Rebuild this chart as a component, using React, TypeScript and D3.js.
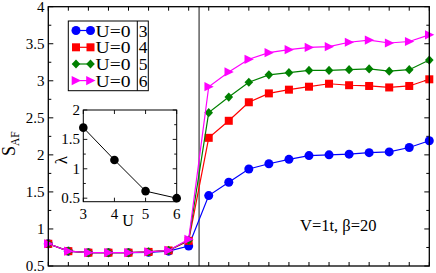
import React from "react";
import * as d3 from "d3";

const W = 436;
const H = 273;

const xIndex = d3.range(20);
const blueU3 = [0.80, 0.70, 0.68, 0.68, 0.68, 0.685, 0.70, 0.77, 1.45, 1.63, 1.81, 1.88, 1.94, 1.99, 2.00, 2.01, 2.03, 2.04, 2.10, 2.19];
const redU4 = [0.80, 0.70, 0.68, 0.68, 0.68, 0.69, 0.71, 0.84, 2.23, 2.46, 2.71, 2.83, 2.88, 2.92, 2.96, 2.94, 2.93, 2.91, 2.93, 3.02];
const greenU5 = [0.80, 0.70, 0.68, 0.68, 0.68, 0.69, 0.71, 0.85, 2.57, 2.78, 2.98, 3.08, 3.11, 3.14, 3.14, 3.15, 3.16, 3.13, 3.15, 3.28];
const magentaU6 = [0.80, 0.70, 0.68, 0.68, 0.68, 0.69, 0.71, 0.86, 2.92, 3.12, 3.29, 3.38, 3.42, 3.45, 3.46, 3.52, 3.55, 3.51, 3.53, 3.62];

const legendLeft = ["U=0", "U=0", "U=0", "U=0"];
const legendRight = ["3", "4", "5", "6"];

const yTickValues = [0.5, 1, 1.5, 2, 2.5, 3, 3.5, 4];
const yTickLabels = ["0.5", "1", "1.5", "2", "2.5", "3", "3.5", "4"];

const insetU = [3, 4, 5, 6];
const insetLambda = [1.70, 1.15, 0.62, 0.50];
const insetYTicks = [0.5, 1, 1.5, 2];
const insetYLabels = ["0.5", "1", "1.5", "2"];
const insetXLabels = ["3", "4", "5", "6"];

const FONT = "Liberation Serif";

type Shape = "circle" | "square" | "diamond" | "tri";

const series: { data: number[]; color: string; shape: Shape }[] = [
  { data: blueU3, color: "#0000ff", shape: "circle" },
  { data: redU4, color: "#ff0000", shape: "square" },
  { data: greenU5, color: "#008000", shape: "diamond" },
  { data: magentaU6, color: "#ff00ff", shape: "tri" },
];

function Marker({ shape, x, y, color }: { shape: Shape; x: number; y: number; color: string }) {
  if (shape === "circle") return <circle cx={x} cy={y} r={4.5} fill={color} />;
  if (shape === "square") return <rect x={x - 4} y={y - 4} width={8} height={8} fill={color} />;
  if (shape === "diamond")
    return <path d={`M${x},${y - 4.6}L${x + 4.3},${y}L${x},${y + 4.6}L${x - 4.3},${y}Z`} fill={color} />;
  return <path d={`M${x - 4.3},${y - 4.6}L${x + 5},${y}L${x - 4.3},${y + 4.6}Z`} fill={color} />;
}

export default function App() {
  const x = d3.scaleLinear().domain([0, 19]).range([48.3, 429.3]);
  const y = d3.scaleLinear().domain([0.5, 4]).range([266, 6.7]);
  const line = d3
    .line<number>()
    .x((_, i) => x(i))
    .y((d) => y(d));

  const minorY = d3.range(0.5, 4.001, 0.25);

  const ix = d3.scaleLinear().domain([3, 6]).range([83.3, 176.7]);
  const iy = d3.scaleLinear().domain([0.44, 2]).range([201.7, 110]);
  const iline = d3
    .line<number>()
    .x((_, i) => ix(insetU[i]))
    .y((d) => iy(d));
  const iMinorY = d3.range(0.5, 2.001, 0.25);

  const legendRows = [30.5, 47.3, 64, 80.6];

  return (
    <svg
      width={W}
      height={H}
      style={{ position: "absolute", left: 0, top: 0, background: "#fff" }}
    >
      <style>{`text, tspan { font-family: "Liberation Serif", serif; }`}</style>
      <rect x={0} y={0} width={W} height={H} fill="#fff" />
      <line x1={x(7.52)} x2={x(7.52)} y1={y(4)} y2={y(0.5)} stroke="#555" strokeWidth={1.4} />

      {minorY.map((v, i) => {
        const major = Math.abs(v * 2 - Math.round(v * 2)) < 1e-6;
        const len = major ? 5 : 3;
        return (
          <g key={"yt" + i}>
            <line x1={x(0)} x2={x(0) + len} y1={y(v)} y2={y(v)} stroke="#000" strokeWidth={1} />
            <line x1={x(19) - len} x2={x(19)} y1={y(v)} y2={y(v)} stroke="#000" strokeWidth={1} />
          </g>
        );
      })}
      {xIndex.map((i) => (
        <g key={"xt" + i}>
          <line x1={x(i)} x2={x(i)} y1={y(0.5)} y2={y(0.5) - 4} stroke="#000" strokeWidth={1} />
          <line x1={x(i)} x2={x(i)} y1={y(4)} y2={y(4) + 4} stroke="#000" strokeWidth={1} />
        </g>
      ))}
      {yTickValues.map((v, i) => (
        <text key={"yl" + i} x={44.5} y={y(v)} dy="0.34em" textAnchor="end" fontSize={15} fill="#000" fontFamily={FONT}>
          {yTickLabels[i]}
        </text>
      ))}

      <text transform={`translate(15,${156}) rotate(-90)`} fontSize={18} fill="#000" fontFamily={FONT}>
        S
        <tspan fontSize={11.5} dy={4}>
          AF
        </tspan>
      </text>

      {series.map((s, si) => (
        <g key={"s" + si}>
          <path d={line(s.data) || ""} fill="none" stroke={s.color} strokeWidth={1.2} />
          {s.data.map((v, i) => (
            <Marker key={i} shape={s.shape} x={x(i)} y={y(v)} color={s.color} />
          ))}
        </g>
      ))}

      <rect
        x={x(0)}
        y={y(4)}
        width={x(19) - x(0)}
        height={y(0.5) - y(4)}
        fill="none"
        stroke="#000"
        strokeWidth={1.3}
      />

      <text x={300} y={230.5} fontSize={16.5} fill="#000" fontFamily={FONT}>
        V=1t, β=20
      </text>

      <rect x={68.3} y={21} width={80} height={69.7} fill="#fff" stroke="#000" strokeWidth={1} />
      <line x1={137.3} x2={137.3} y1={21} y2={90.7} stroke="#000" strokeWidth={1} />
      {series.map((s, i) => (
        <g key={"lg" + i}>
          <line x1={73} x2={93} y1={legendRows[i]} y2={legendRows[i]} stroke={s.color} strokeWidth={1.2} />
          <Marker shape={s.shape} x={76} y={legendRows[i]} color={s.color} />
          <Marker shape={s.shape} x={90.5} y={legendRows[i]} color={s.color} />
          <text
            x={95.5}
            y={legendRows[i] + 6}
            fontSize={17.5}
            fill="#000"
            fontFamily={FONT}
            textLength={35}
            lengthAdjust="spacingAndGlyphs"
          >
            {legendLeft[i]}
          </text>
          <text x={138.8} y={legendRows[i] + 6} fontSize={17.5} fill="#000" fontFamily={FONT}>
            {legendRight[i]}
          </text>
        </g>
      ))}

      <rect x={ix(3)} y={iy(2)} width={ix(6) - ix(3)} height={iy(0.44) - iy(2)} fill="#fff" />
      {iMinorY.map((v, i) => {
        const major = Math.abs(v * 2 - Math.round(v * 2)) < 1e-6;
        const len = major ? 4 : 2.5;
        return (
          <g key={"iyt" + i}>
            <line x1={ix(3)} x2={ix(3) + len} y1={iy(v)} y2={iy(v)} stroke="#000" strokeWidth={0.9} />
            <line x1={ix(6) - len} x2={ix(6)} y1={iy(v)} y2={iy(v)} stroke="#000" strokeWidth={0.9} />
          </g>
        );
      })}
      {insetU.map((u, i) => (
        <g key={"ixt" + i}>
          <line x1={ix(u)} x2={ix(u)} y1={iy(0.44)} y2={iy(0.44) - 4} stroke="#000" strokeWidth={0.9} />
          <line x1={ix(u)} x2={ix(u)} y1={iy(2)} y2={iy(2) + 4} stroke="#000" strokeWidth={0.9} />
          <text x={ix(u)} y={218.5} textAnchor="middle" fontSize={15} fill="#000" fontFamily={FONT}>
            {insetXLabels[i]}
          </text>
        </g>
      ))}
      {insetYTicks.map((v, i) => (
        <text key={"iyl" + i} x={80} y={iy(v)} dy="0.34em" textAnchor="end" fontSize={15} fill="#000" fontFamily={FONT}>
          {insetYLabels[i]}
        </text>
      ))}
      <rect
        x={ix(3)}
        y={iy(2)}
        width={ix(6) - ix(3)}
        height={iy(0.44) - iy(2)}
        fill="none"
        stroke="#000"
        strokeWidth={1}
      />
      <path d={iline(insetLambda) || ""} fill="none" stroke="#000" strokeWidth={1} />
      {insetLambda.map((v, i) => (
        <circle key={"ic" + i} cx={ix(insetU[i])} cy={iy(v)} r={4.3} fill="#000" />
      ))}
      <text x={128} y={226} textAnchor="middle" fontSize={16} fill="#000" fontFamily={FONT}>
        U
      </text>
      <text transform={`translate(67,${160}) rotate(-90)`} textAnchor="middle" fontSize={17} fill="#000" fontFamily={FONT}>
        λ
      </text>
    </svg>
  );
}
